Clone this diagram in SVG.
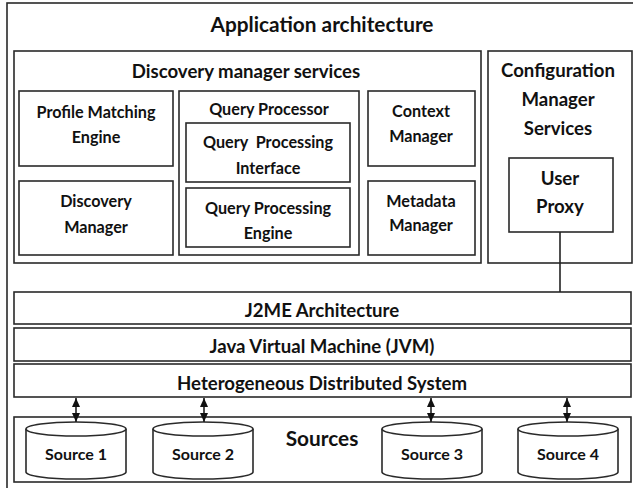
<svg xmlns="http://www.w3.org/2000/svg" width="633" height="488" viewBox="0 0 633 488">
<style>
  .b{fill:#fff;stroke:#2a2a2a;stroke-width:1.6}
  .t{font-family:Lato,"Liberation Sans",sans-serif;font-weight:bold;fill:#111;text-anchor:middle}
  .s14{font-size:16.2px}
  .s16{font-size:18.6px}
  .s18{font-size:20.8px}
  .s15{font-size:16px}
  .c{stroke:#222;stroke-width:1.6;fill:none}
</style>
<defs>
  <marker id="ah" viewBox="0 0 9 8" refX="9" refY="4" markerWidth="9" markerHeight="8" markerUnits="userSpaceOnUse" orient="auto-start-reverse">
    <path d="M0,0 L9,4 L0,8 Z" fill="#111"/>
  </marker>
</defs>
<rect width="633" height="488" fill="#fff"/>
<g id="app">
  <rect class="b" x="7" y="3" width="640" height="500"/>
  <text class="t s18" x="322" y="32">Application architecture</text>
</g>
<g id="dms">
  <rect class="b" x="14" y="51" width="467" height="212"/>
  <text class="t s16" x="246" y="78">Discovery manager services</text>
</g>
<g id="pme">
  <rect class="b" x="19" y="91" width="154" height="75"/>
  <text class="t s14" x="96" y="118">Profile Matching</text>
  <text class="t s14" x="96" y="143">Engine</text>
</g>
<g id="dm">
  <rect class="b" x="19" y="181" width="154" height="74"/>
  <text class="t s14" x="96" y="207">Discovery</text>
  <text class="t s14" x="96" y="233">Manager</text>
</g>
<g id="qp">
  <rect class="b" x="179" y="91" width="180" height="164"/>
  <text class="t s14" x="269" y="115">Query Processor</text>
</g>
<g id="qpi">
  <rect class="b" x="186" y="123" width="164" height="59"/>
  <text class="t s14" x="268" y="148" xml:space="preserve">Query  Processing</text>
  <text class="t s14" x="268" y="174">Interface</text>
</g>
<g id="qpe">
  <rect class="b" x="186" y="188" width="164" height="59"/>
  <text class="t s14" x="268" y="214">Query Processing</text>
  <text class="t s14" x="268" y="239">Engine</text>
</g>
<g id="cm">
  <rect class="b" x="368" y="91" width="107" height="75"/>
  <text class="t s14" x="421" y="117">Context</text>
  <text class="t s14" x="421" y="142">Manager</text>
</g>
<g id="mm">
  <rect class="b" x="368" y="181" width="107" height="74"/>
  <text class="t s14" x="421" y="207">Metadata</text>
  <text class="t s14" x="421" y="231">Manager</text>
</g>
<g id="cms">
  <rect class="b" x="488" y="51" width="144" height="212"/>
  <text class="t s16" x="558" y="77">Configuration</text>
  <text class="t s16" x="558" y="106">Manager</text>
  <text class="t s16" x="558" y="135">Services</text>
</g>
<g id="up">
  <rect class="b" x="509" y="158" width="104" height="74"/>
  <text class="t s16" x="560" y="185">User</text>
  <text class="t s16" x="560" y="213">Proxy</text>
</g>
<g id="j2me">
  <rect class="b" x="14" y="292" width="617" height="32"/>
  <text class="t s16" x="322" y="317">J2ME Architecture</text>
</g>
<g id="jvm">
  <rect class="b" x="14" y="328" width="617" height="33"/>
  <text class="t s16" x="322" y="353">Java Virtual Machine (JVM)</text>
</g>
<g id="hds">
  <rect class="b" x="14" y="364" width="617" height="33"/>
  <text class="t s16" x="322" y="390">Heterogeneous Distributed System</text>
</g>
<g id="sources">
  <rect class="b" x="14" y="417" width="617" height="65"/>
  <text class="t s18" x="322" y="446">Sources</text>
</g>
<g id="src1">
  <path class="b" d="M26,429 V472 A50,7 0 0 0 126,472 V429"/>
  <ellipse class="b" cx="76" cy="429" rx="50" ry="7"/>
  <text class="t s15" x="76" y="460">Source 1</text>
</g>
<g id="src2">
  <path class="b" d="M153,429 V472 A50,7 0 0 0 253,472 V429"/>
  <ellipse class="b" cx="203" cy="429" rx="50" ry="7"/>
  <text class="t s15" x="203" y="460">Source 2</text>
</g>
<g id="src3">
  <path class="b" d="M382,429 V472 A50,7 0 0 0 482,472 V429"/>
  <ellipse class="b" cx="432" cy="429" rx="50" ry="7"/>
  <text class="t s15" x="432" y="460">Source 3</text>
</g>
<g id="src4">
  <path class="b" d="M518,429 V472 A50,7 0 0 0 618,472 V429"/>
  <ellipse class="b" cx="568" cy="429" rx="50" ry="7"/>
  <text class="t s15" x="568" y="460">Source 4</text>
</g>
<g id="connectors">
  <path class="c" d="M560,232 V292"/>
  <path class="c" d="M76,398 V422" marker-start="url(#ah)" marker-end="url(#ah)"/>
  <path class="c" d="M204,398 V422" marker-start="url(#ah)" marker-end="url(#ah)"/>
  <path class="c" d="M431,398 V422" marker-start="url(#ah)" marker-end="url(#ah)"/>
  <path class="c" d="M567,398 V422" marker-start="url(#ah)" marker-end="url(#ah)"/>
</g>
</svg>
